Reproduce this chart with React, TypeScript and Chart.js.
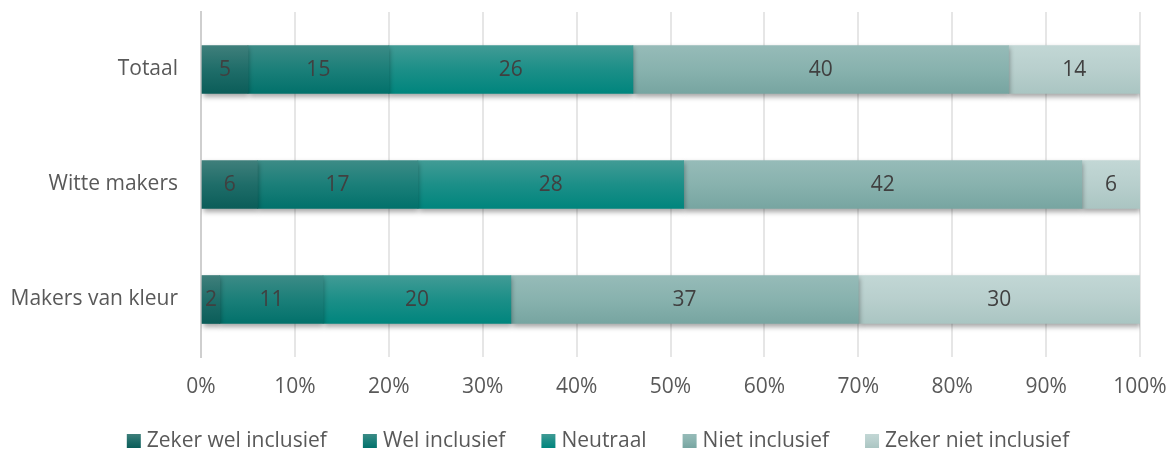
import React, { useEffect, useRef } from "react";
import { Chart, registerables } from "chart.js";

Chart.register(...registerables);

const categories = ["Totaal", "Witte makers", "Makers van kleur"];
const seriesNames = ["Zeker wel inclusief", "Wel inclusief", "Neutraal", "Niet inclusief", "Zeker niet inclusief"];
const zekerWel = [5, 6, 2];
const wel = [15, 17.1, 11];
const neutraal = [26, 28.3, 20];
const niet = [40, 42.4, 37];
const zekerNiet = [14, 6.2, 30];
const xTicks = [0, 10, 20, 30, 40, 50, 60, 70, 80, 90, 100];

const topColors = ["#3f7f7b", "#3c8b86", "#419b95", "#96bbb8", "#c2d7d5"];
const midColors = ["#1f6d69", "#1b7f79", "#1c8f88", "#88b2ae", "#b8cfcd"];
const bottomColors = ["#0b5d59", "#02716b", "#00857d", "#77a5a1", "#aac5c2"];

const FONT = "'Open Sans'";
const FS = 21;
const BAR_T = 48;

export default function App() {
  const ref = useRef<HTMLCanvasElement | null>(null);

  useEffect(() => {
    document.body.style.margin = "0";
    const canvas = ref.current;
    if (!canvas) return;
    const allSeries = [zekerWel, wel, neutraal, niet, zekerNiet];

    const makeBg = (i: number) => (ctx: any) => {
      const chart = ctx.chart;
      if (ctx.type !== "data" || !chart.scales || !chart.scales.y) return midColors[i];
      const y = chart.scales.y.getPixelForValue(ctx.dataIndex);
      if (!isFinite(y)) return midColors[i];
      const g = chart.ctx.createLinearGradient(0, y - BAR_T / 2, 0, y + BAR_T / 2);
      g.addColorStop(0, topColors[i]);
      g.addColorStop(0.5, midColors[i]);
      g.addColorStop(1, bottomColors[i]);
      return g;
    };

    const shadowPlugin = {
      id: "shadow",
      beforeDatasetsDraw(chart: any) {
        const c = chart.ctx;
        c.save();
        c.shadowColor = "rgba(0,0,0,0.35)";
        c.shadowBlur = 5;
        c.shadowOffsetX = 1;
        c.shadowOffsetY = 3;
      },
      afterDatasetsDraw(chart: any) {
        const c = chart.ctx;
        c.restore();
        c.save();
        c.font = `${FS}px ${FONT}`;
        c.fillStyle = "#404040";
        c.textAlign = "center";
        c.textBaseline = "middle";
        chart.data.datasets.forEach((ds: any, di: number) => {
          const meta = chart.getDatasetMeta(di);
          meta.data.forEach((el: any, idx: number) => {
            const v = ds.data[idx];
            const cx = (el.x + el.base) / 2;
            c.fillText(String(Math.round(v)), cx, el.y + 1);
          });
        });
        c.restore();
      },
    };

    const legendPlugin = {
      id: "customLegend",
      afterDraw(chart: any) {
        const c = chart.ctx;
        c.save();
        c.font = `${FS}px ${FONT}`;
        const box = 14;
        const gapText = 6;
        const gapItem = 36;
        const widths = seriesNames.map((n) => c.measureText(n).width);
        const total = widths.reduce((a, w) => a + box + gapText + w, 0) + gapItem * (seriesNames.length - 1);
        let x = 598 - total / 2;
        const cy = 441;
        seriesNames.forEach((n, i) => {
          const g = c.createLinearGradient(0, cy - box / 2, 0, cy + box / 2);
          g.addColorStop(0, topColors[i]);
          g.addColorStop(0.5, midColors[i]);
          g.addColorStop(1, bottomColors[i]);
          c.fillStyle = g;
          c.fillRect(x, cy - box / 2, box, box);
          x += box + gapText;
          c.fillStyle = "#595959";
          c.textAlign = "left";
          c.textBaseline = "middle";
          c.fillText(n, x, cy);
          x += widths[i] + gapItem;
        });
        c.restore();
      },
    };

    const chart = new Chart(canvas, {
      type: "bar",
      data: {
        labels: categories,
        datasets: allSeries.map((d, i) => ({
          label: seriesNames[i],
          data: d,
          backgroundColor: makeBg(i),
          borderWidth: 0,
          barThickness: BAR_T,
        })),
      },
      options: {
        indexAxis: "y",
        responsive: false,
        animation: false,
        layout: { padding: { left: 0, right: 29, top: 12, bottom: 0 } },
        plugins: {
          legend: { display: false },
          tooltip: { enabled: false },
        },
        scales: {
          x: {
            stacked: true,
            min: 0,
            max: 100,
            afterBuildTicks: (scale: any) => {
              scale.ticks = xTicks.map((v) => ({ value: v }));
            },
            afterFit: (scale: any) => {
              scale.height = 93;
              scale.paddingLeft = 0;
              scale.paddingRight = 0;
              scale.paddingTop = 0;
              scale.paddingBottom = 0;
            },
            ticks: {
              callback: (v: any) => `${v}%`,
              color: "#595959",
              font: { family: FONT, size: FS },
              padding: 17,
              maxRotation: 0,
              autoSkip: false,
            },
            grid: { color: "#e6e6e6", lineWidth: 2, drawTicks: false },
            border: { display: false },
          },
          y: {
            stacked: true,
            afterFit: (scale: any) => {
              scale.width = 201;
              scale.paddingLeft = 0;
              scale.paddingRight = 0;
              scale.paddingTop = 0;
              scale.paddingBottom = 0;
            },
            ticks: {
              color: "#595959",
              font: { family: FONT, size: FS },
              padding: 23,
            },
            grid: { display: false, drawTicks: false },
            border: { display: true, color: "#cfcfcf", width: 2 },
          },
        },
      },
      plugins: [shadowPlugin, legendPlugin],
    } as any);

    return () => chart.destroy();
  }, []);

  return (
    <div style={{ width: 1169, height: 450 }}>
      <canvas ref={ref} width={1169} height={450} />
    </div>
  );
}
